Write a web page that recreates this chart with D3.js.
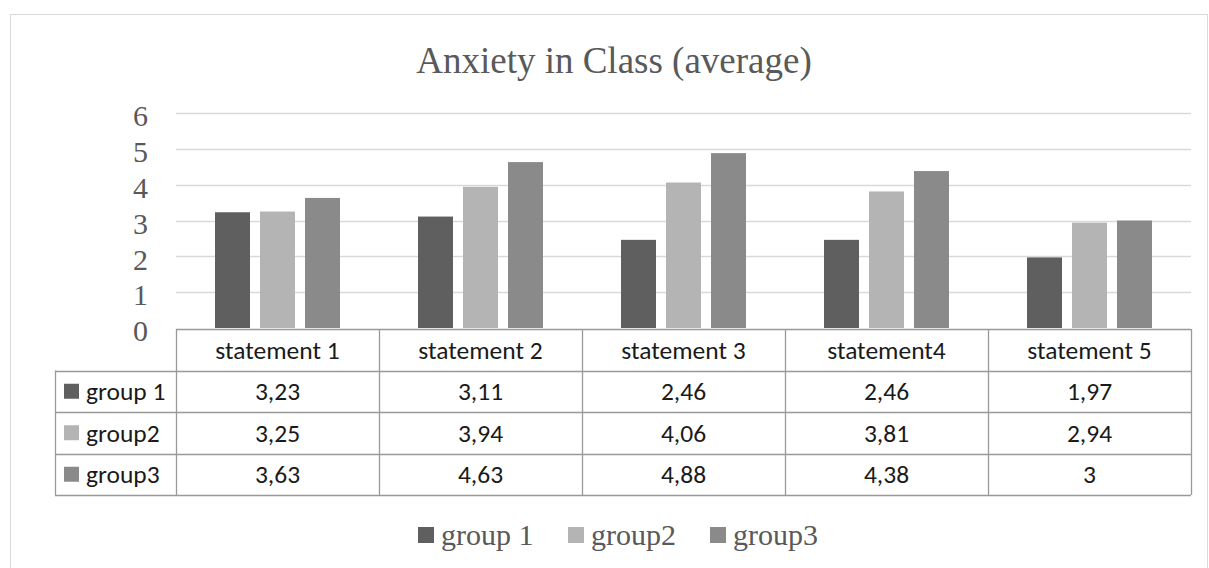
<!DOCTYPE html>
<html>
<head>
<meta charset="utf-8">
<script src="https://cdn.jsdelivr.net/npm/d3@7"></script>
<style>
  html, body { margin: 0; padding: 0; background: #fff; }
  svg { display: block; }
</style>
</head>
<body>
<svg id="chart" width="1209" height="568"></svg>
<script>
// Chart data
const title = "Anxiety in Class (average)";
const categories = ["statement 1", "statement 2", "statement 3", "statement4", "statement 5"];
const groups = ["group 1", "group2", "group3"];
const group1 = [3.23, 3.11, 2.46, 2.46, 1.97];
const group2 = [3.25, 3.94, 4.06, 3.81, 2.94];
const group3 = [3.63, 4.63, 4.88, 4.38, 3];
const yTicks = [0, 1, 2, 3, 4, 5, 6];
const colors = ["#5f5f5f", "#b4b4b4", "#8a8a8a"];

const series = [group1, group2, group3];
const fmt = v => String(v).replace(".", ",");

const svg = d3.select("#chart");
const serif = "'Liberation Serif', 'Times New Roman', serif";
const sans = "Carlito, Calibri, Lato, 'Open Sans', sans-serif";
const tableFont = 25.5;

// Layout
const plot = { left: 176, right: 1191, top: 113, bottom: 328 };
const rowH = 41.5;
const labelColLeft = 55;

// Outer chart frame
svg.append("rect")
  .attr("x", 10.5).attr("y", 14.5)
  .attr("width", 1197).attr("height", 570)
  .attr("fill", "none").attr("stroke", "#d9d9d9").attr("stroke-width", 1);

// Title
svg.append("text")
  .attr("x", 614).attr("y", 73)
  .attr("text-anchor", "middle")
  .attr("font-family", serif).attr("font-size", 37)
  .attr("fill", "#595959")
  .text(title);

// Scales
const x = d3.scaleBand().domain(categories).range([plot.left, plot.right]);
const xInner = d3.scaleBand().domain(groups)
  .range([0, x.bandwidth()])
  .paddingInner(10 / 45).paddingOuter(0.8667);
const y = d3.scaleLinear().domain([0, 6]).range([plot.bottom, plot.top]);

// Gridlines
svg.append("g").selectAll("line")
  .data(yTicks.filter(t => t > 0))
  .join("line")
  .attr("x1", plot.left).attr("x2", plot.right)
  .attr("y1", d => Math.round(y(d)) + 0.5).attr("y2", d => Math.round(y(d)) + 0.5)
  .attr("stroke", "#d9d9d9").attr("stroke-width", 1.3);

// Y axis labels
const yAxis = d3.axisLeft(y).tickValues(yTicks).tickFormat(d3.format("d")).tickSize(0).tickPadding(0);
const yg = svg.append("g").attr("transform", `translate(148,0)`).call(yAxis);
yg.select(".domain").remove();
yg.selectAll("text")
  .attr("font-family", serif).attr("font-size", 30)
  .attr("fill", "#595959")
  .attr("dy", "0.36em")
  .attr("y", 2);

// Bars
const barG = svg.append("g");
series.forEach((vals, gi) => {
  barG.selectAll(null)
    .data(vals.map((v, i) => ({ cat: categories[i], v })))
    .join("rect")
    .attr("x", d => x(d.cat) + xInner(groups[gi]))
    .attr("width", xInner.bandwidth())
    .attr("y", d => y(d.v))
    .attr("height", d => y(0) - y(d.v))
    .attr("fill", colors[gi]);
});

// Data table under the axis
const tbl = svg.append("g");
const tTop = plot.bottom + 1;
const lineColor = "#999999";
const rowsTop = tTop + rowH;

// Horizontal lines
tbl.append("line")
  .attr("x1", plot.left).attr("x2", plot.right)
  .attr("y1", tTop + 0.5).attr("y2", tTop + 0.5)
  .attr("stroke", lineColor).attr("stroke-width", 1.3);
[0, 1, 2, 3].forEach(r => {
  const yy = Math.round(rowsTop + r * rowH) + 0.5;
  tbl.append("line")
    .attr("x1", labelColLeft).attr("x2", plot.right)
    .attr("y1", yy).attr("y2", yy)
    .attr("stroke", lineColor).attr("stroke-width", 1.3);
});
// Vertical lines
tbl.append("line")
  .attr("x1", labelColLeft + 0.5).attr("x2", labelColLeft + 0.5)
  .attr("y1", rowsTop).attr("y2", rowsTop + 3 * rowH)
  .attr("stroke", lineColor).attr("stroke-width", 1.3);
[...categories.map(c => x(c)), plot.right].forEach(xx => {
  tbl.append("line")
    .attr("x1", Math.round(xx) + 0.5).attr("x2", Math.round(xx) + 0.5)
    .attr("y1", tTop).attr("y2", rowsTop + 3 * rowH)
    .attr("stroke", lineColor).attr("stroke-width", 1.3);
});

// Header labels
tbl.selectAll(".hdr")
  .data(categories)
  .join("text")
  .attr("class", "hdr")
  .attr("x", d => x(d) + x.bandwidth() / 2)
  .attr("y", tTop + rowH / 2)
  .attr("dy", "0.35em")
  .attr("text-anchor", "middle")
  .attr("font-family", sans).attr("font-size", tableFont)
  .attr("fill", "#1a1a1a")
  .text(d => d);

// Row labels with keys, and values
series.forEach((vals, gi) => {
  const cy = rowsTop + gi * rowH + rowH / 2;
  tbl.append("rect")
    .attr("x", 64).attr("y", cy - 7.5)
    .attr("width", 15).attr("height", 15)
    .attr("fill", colors[gi]);
  tbl.append("text")
    .attr("x", 86).attr("y", cy).attr("dy", "0.35em")
    .attr("font-family", sans).attr("font-size", tableFont)
    .attr("fill", "#1a1a1a")
    .text(groups[gi]);
  tbl.selectAll(null)
    .data(vals.map((v, i) => ({ cat: categories[i], v })))
    .join("text")
    .attr("x", d => x(d.cat) + x.bandwidth() / 2)
    .attr("y", cy).attr("dy", "0.35em")
    .attr("text-anchor", "middle")
    .attr("font-family", sans).attr("font-size", tableFont)
    .attr("fill", "#1a1a1a")
    .text(d => fmt(d.v));
});

// Legend
const legendX = [418, 568, 710];
const leg = svg.append("g");
groups.forEach((g, gi) => {
  leg.append("rect")
    .attr("x", legendX[gi]).attr("y", 527)
    .attr("width", 16).attr("height", 16)
    .attr("fill", colors[gi]);
  leg.append("text")
    .attr("x", legendX[gi] + 23).attr("y", 545)
    .attr("font-family", serif).attr("font-size", 30)
    .attr("fill", "#595959")
    .text(g);
});
</script>
</body>
</html>
